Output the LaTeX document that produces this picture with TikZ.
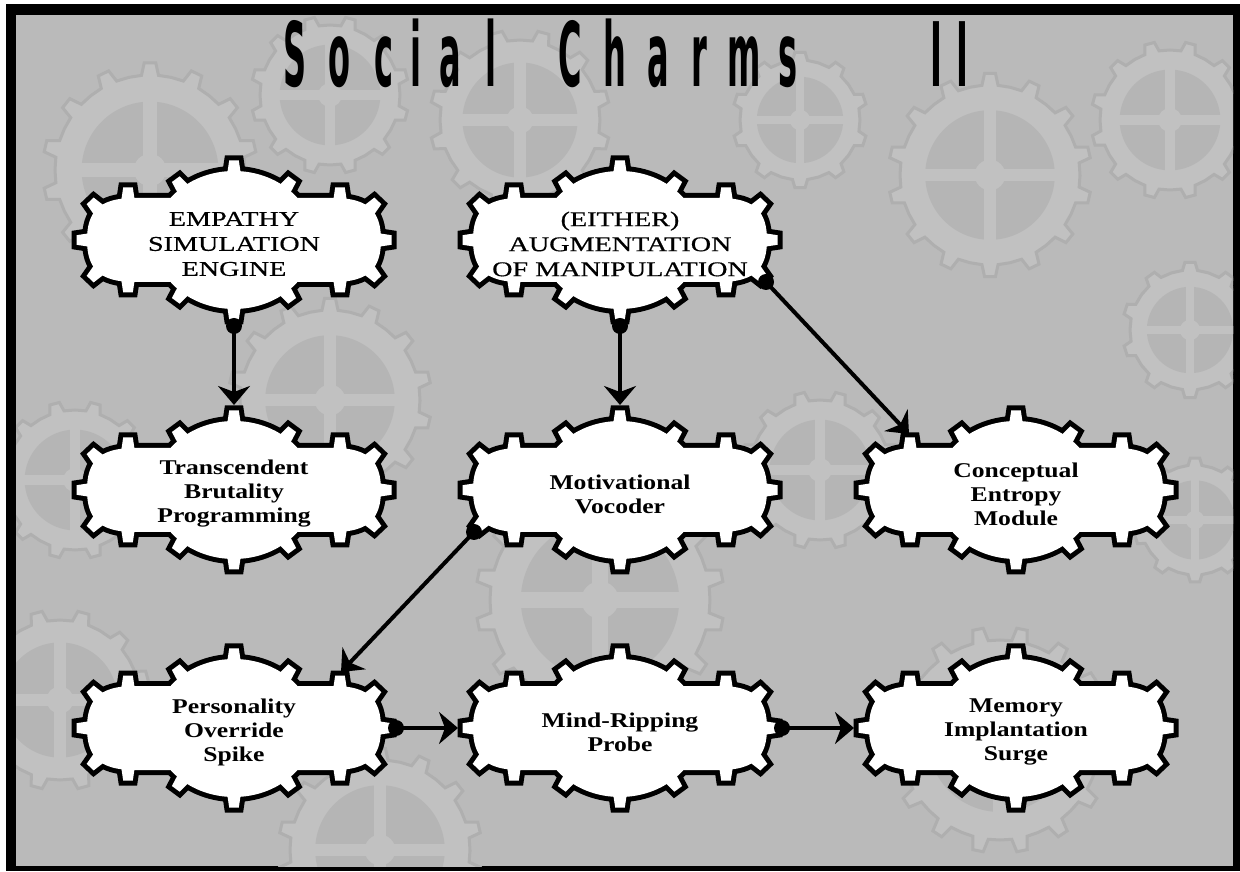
\documentclass[tikz,border=0pt]{standalone}
\usepackage{fontspec}
\usetikzlibrary{arrows.meta,calc}

\newfontfamily\plaquefont{Liberation Serif}[FakeStretch=1.22]
\newfontfamily\capsfont{Liberation Serif}[FakeStretch=1.34,FakeBold=0.6]
\newfontfamily\titlefont{DejaVu Sans}[FakeStretch=0.36]

\definecolor{bggray}{HTML}{BABABA}
\definecolor{gearface}{HTML}{C1C1C1}
\definecolor{gearline}{HTML}{AFAFAF}
\definecolor{gearhole}{HTML}{B5B5B5}

% outline of the plaque body (rounded slab); the dome is an ellipse on top of it
\def\plaquebody{(-100,42) -- (100,42) .. controls (135,42) and (147,28) .. (147,0)
  .. controls (147,-28) and (135,-42) .. (100,-42) -- (-100,-42)
  .. controls (-135,-42) and (-147,-28) .. (-147,0)
  .. controls (-147,28) and (-135,42) .. (-100,42) -- cycle}
\def\plaquedome{(0,0) ellipse [x radius=80, y radius=69]}
% teeth: x/y of the tooth base and the direction it points to
\def\toothlist{0/69/90, 0/-69/-90,
  52/52.4/53.6, -52/52.4/126.4, 52/-52.4/-53.6, -52/-52.4/-126.4,
  106/42/90, -106/42/90, 106/-42/-90, -106/-42/-90,
  136.6/31.5/46.5, -136.6/31.5/133.5, 136.6/-31.5/-46.5, -136.6/-31.5/-133.5,
  147/0/0, -147/0/180}
\def\toothshape{(-4,-7) -- (10.5,-4.8) -- (10.5,4.8) -- (-4,7) -- cycle}

\tikzset{
  plaque/.pic={
    % black pass: thick strokes of every part, then white pass on top
    \foreach \tx/\ty/\ta in \toothlist {
      \draw[line width=10pt, shift={(\tx,\ty)}, rotate=\ta] \toothshape; }
    \draw[line width=10pt] \plaquebody;
    \draw[line width=10pt] \plaquedome;
    \fill[white] \plaquebody;
    \fill[white] \plaquedome;
    \foreach \tx/\ty/\ta in \toothlist {
      \fill[white, shift={(\tx,\ty)}, rotate=\ta] \toothshape; }
  },
  plaquetext/.style={align=center, inner sep=0pt,
    font=\plaquefont\bfseries\fontsize{21}{24}\selectfont},
  capstext/.style={plaquetext, font=\capsfont\mdseries\fontsize{21}{25}\selectfont},
  titletext/.style={inner sep=0pt, anchor=base, font=\titlefont\bfseries\fontsize{89}{89}\selectfont},
  conn/.style={line width=4pt, -{Stealth[length=19pt,width=32pt,inset=6pt]}},
  gearbody/.style={fill=gearface, draw=gearline, line width=3pt},
  gearspoke/.style={draw=gearface},
}

% faint gear in the backdrop: centre x, centre y, radius, number of teeth
\newcommand\bggear[4]{%
  \begin{scope}[shift={(#1,#2)}]
    \pgfmathsetmacro\gearstep{360/#4}
    \pgfmathsetmacro\geartip{#3*1.13}
    \filldraw[gearbody] (0:#3) \foreach \k in {1,...,#4} {
      -- ({(\k-1)*\gearstep+0.3*\gearstep}:#3)
      -- ({(\k-1)*\gearstep+0.38*\gearstep}:\geartip)
      -- ({(\k-1)*\gearstep+0.62*\gearstep}:\geartip)
      -- ({(\k-1)*\gearstep+0.7*\gearstep}:#3)
      -- ({\k*\gearstep}:#3)} -- cycle;
    \fill[gearhole] (0,0) circle ({0.72*#3});
    \foreach \a in {0,90}
      \draw[gearspoke, line width={0.14*#3}] (\a:{0.74*#3}) -- (\a+180:{0.74*#3});
    \fill[gearface] (0,0) circle ({0.17*#3});
  \end{scope}}

% a plaque with its text node and the tooth tips used by the connectors
\newcommand\plaque[5]{% name, x, y, text style, text
  \pic at (#2,#3) {plaque};
  \node[#4] (#1) at (#2,#3-4) {#5};
  \path (#2,#3) ++(0,85) coordinate (#1-n)
        (#2,#3) ++(0,-86) coordinate (#1-s)
        (#2,#3) ++(162,0) coordinate (#1-e)
        (#2,#3) ++(-162,0) coordinate (#1-w)
        (#2,#3) ++(107,56) coordinate (#1-ne)
        (#2,#3) ++(-107,56) coordinate (#1-nw)
        (#2,#3) ++(146,-42) coordinate (#1-se)
        (#2,#3) ++(-146,-42) coordinate (#1-sw);
}

\begin{document}
\begin{tikzpicture}[x=1pt,y=1pt]
\useasboundingbox (0,0) rectangle (1240,871);
\fill[white] (0,0) rectangle (1240,871);
\fill[black] (6,0) rectangle (1240,867);
\fill[bggray] (16,5) rectangle (1233,856);

% backdrop of gears
\begin{scope}
  \clip (16,5) rectangle (1233,856);
  \bggear{150}{701}{95}{14}
  \bggear{330}{776}{70}{12}
  \bggear{520}{751}{80}{12}
  \bggear{800}{751}{60}{10}
  \bggear{990}{696}{90}{14}
  \bggear{1170}{751}{70}{12}
  \bggear{1190}{541}{60}{10}
  \bggear{1195}{351}{55}{10}
  \bggear{75}{391}{70}{12}
  \bggear{330}{471}{90}{14}
  \bggear{820}{401}{70}{12}
  \bggear{60}{171}{80}{12}
  \bggear{600}{271}{110}{16}
  \bggear{1000}{131}{100}{16}
  \bggear{380}{21}{90}{14}
\end{scope}

% title, one letter at a time for the wide spacing
\foreach \ch/\cx [count=\i] in {S/295, o/340, c/384, i/416, a/450, l/491,
    C/570, h/615, a/658, r/699, m/744, s/788, I/936, I/962}
  \node[titletext] (title-\i) at (\cx,784) {\ch};

% plaques
\plaque{emp}{234}{631}{capstext}{EMPATHY\\SIMULATION\\ENGINE}
\plaque{aug}{620}{631}{capstext}{(EITHER)\\AUGMENTATION\\OF MANIPULATION}
\plaque{tbp}{234}{381}{plaquetext}{Transcendent\\Brutality\\Programming}
\plaque{mv}{620}{381}{plaquetext}{Motivational\\Vocoder}
\plaque{cem}{1016}{381}{plaquetext}{Conceptual\\Entropy\\Module}
\plaque{pos}{234}{143}{plaquetext}{Personality\\Override\\Spike}
\plaque{mrp}{620}{143}{plaquetext}{Mind-Ripping\\Probe}
\plaque{mis}{1016}{143}{plaquetext}{Memory\\Implantation\\Surge}

% connectors: a dot where they leave, an arrow where they arrive
\draw[conn] (emp-s) -- (tbp-n);
\draw[conn] (aug-s) -- (mv-n);
\draw[conn] (aug-se) -- (cem-nw);
\draw[conn] (mv-sw) -- (pos-ne);
\draw[conn] (pos-e) -- (mrp-w);
\draw[conn] (mrp-e) -- (mis-w);
\foreach \d in {emp-s, aug-s, aug-se, mv-sw, pos-e, mrp-e}
  \fill (\d) circle (8);
\end{tikzpicture}
\end{document}
